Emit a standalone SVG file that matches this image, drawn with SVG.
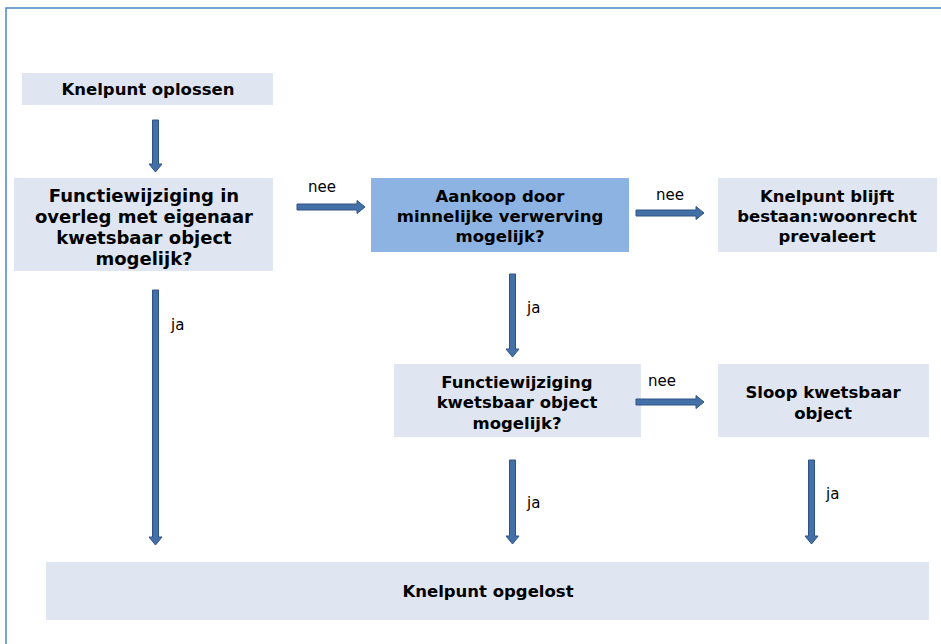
<svg xmlns="http://www.w3.org/2000/svg" width="941" height="644" viewBox="0 0 941 644">
<style>
.box{fill:#DFE6F2}
.dark{fill:#8DB3E2}
.t{font-family:"DejaVu Sans",Verdana,sans-serif;font-weight:bold;font-size:16.5px;fill:#000;text-anchor:middle}
.big{font-size:18px}
.l{font-family:"DejaVu Sans",Verdana,sans-serif;font-size:15px;fill:#000}
.arr{fill:#4470A8;stroke:#2E5287;stroke-width:1}
.frame{stroke:#4A86C8;stroke-width:1.5;fill:none}
</style>
<rect width="941" height="644" fill="#fff"/>
<path class="frame" d="M6,644 V8 H941"/>
<g id="n1"><rect class="box" x="22" y="73" width="251" height="32"/><text class="t" x="148" y="95">Knelpunt oplossen</text></g>
<g id="n2"><rect class="box" x="14" y="178" width="259" height="93"/>
<text class="t big" x="144" y="202">Functiewijziging in</text>
<text class="t big" x="144" y="223">overleg met eigenaar</text>
<text class="t big" x="144" y="244">kwetsbaar object</text>
<text class="t big" x="144" y="265">mogelijk?</text></g>
<g id="n3"><rect class="dark" x="371" y="178" width="258" height="74"/>
<text class="t" x="500" y="202">Aankoop door</text>
<text class="t" x="500" y="222">minnelijke verwerving</text>
<text class="t" x="500" y="242">mogelijk?</text></g>
<g id="n4"><rect class="box" x="718" y="178" width="219" height="74"/>
<text class="t" x="827" y="202">Knelpunt blijft</text>
<text class="t" x="827" y="222">bestaan:woonrecht</text>
<text class="t" x="827" y="242">prevaleert</text></g>
<g id="n5"><rect class="box" x="394" y="364" width="247" height="73"/>
<text class="t" x="517" y="388">Functiewijziging</text>
<text class="t" x="517" y="408">kwetsbaar object</text>
<text class="t" x="517" y="429">mogelijk?</text></g>
<g id="n6"><rect class="box" x="718" y="364" width="211" height="73"/>
<text class="t" x="823" y="398">Sloop kwetsbaar</text>
<text class="t" x="823" y="419">object</text></g>
<g id="n7"><rect class="box" x="46" y="562" width="883" height="58"/>
<text class="t" x="488" y="597">Knelpunt opgelost</text></g>
<g id="connectors">
<path class="arr" d="M152.5,120 H158.5 V164 H162 L155.5,172 L149,164 H152.5 Z"/>
<path class="arr" d="M297,204 H357 V200.5 L365,207 L357,213.5 V210 H297 Z"/>
<path class="arr" d="M636,210 H696 V206.5 L704,213 L696,219.5 V216 H636 Z"/>
<path class="arr" d="M152.5,290 H158.5 V537 H162 L155.5,545 L149,537 H152.5 Z"/>
<path class="arr" d="M509.5,274 H515.5 V349 H519 L512.5,357 L506,349 H509.5 Z"/>
<path class="arr" d="M636,399 H696 V395.5 L704,402 L696,408.5 V405 H636 Z"/>
<path class="arr" d="M509.5,460 H515.5 V536 H519 L512.5,544 L506,536 H509.5 Z"/>
<path class="arr" d="M808.5,460 H814.5 V536 H818 L811.5,544 L805,536 H808.5 Z"/>
<text class="l" x="308" y="192">nee</text>
<text class="l" x="656" y="200">nee</text>
<text class="l" x="648" y="386">nee</text>
<text class="l" x="171" y="330">ja</text>
<text class="l" x="527" y="313">ja</text>
<text class="l" x="527" y="508">ja</text>
<text class="l" x="826" y="499">ja</text>
</g>
</svg>
